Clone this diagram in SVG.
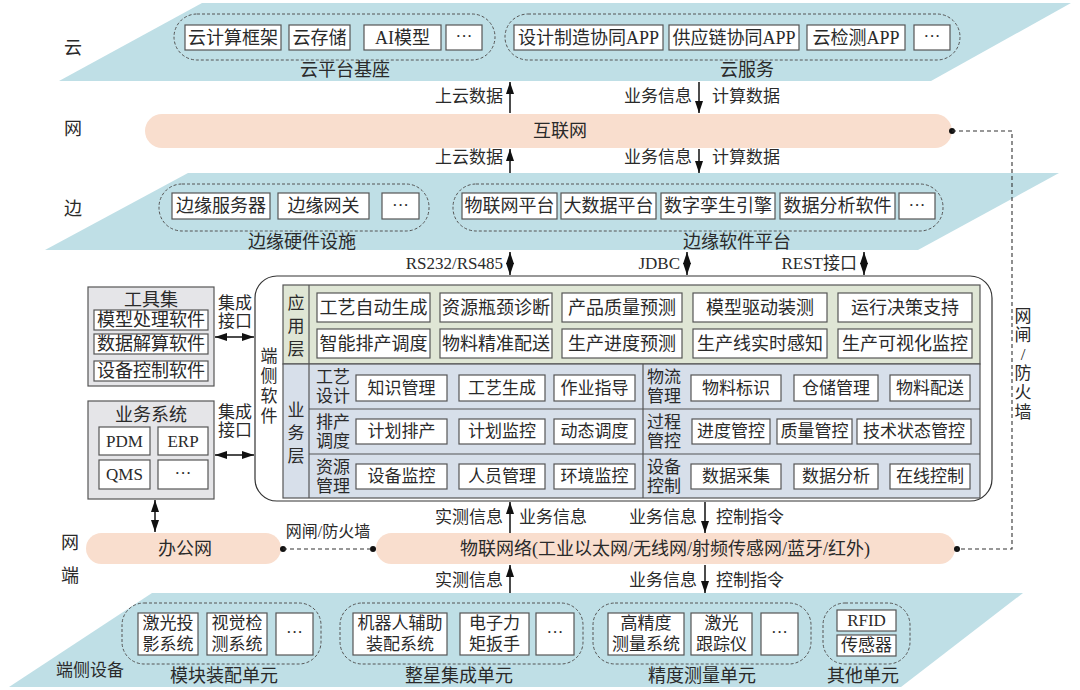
<svg xmlns="http://www.w3.org/2000/svg" width="1080" height="690" viewBox="0 0 1080 690">
<style>
text{font-family:"Liberation Serif","Noto Sans CJK SC",serif;font-size:17px;fill:#2a2a2a;text-anchor:middle;dominant-baseline:central}
.s{font-size:16px}
.b{font-size:18px}
.box{fill:#fff;stroke:#555;stroke-width:1.2}
.grp{fill:none;stroke:#555;stroke-width:1;stroke-dasharray:3 2}
.band{fill:#bfdfe6}
.net{fill:#f9dece}
.gray{fill:#e5e5e8;stroke:#555;stroke-width:1.2}
.arr{stroke:#111;stroke-width:1.5;fill:none;marker-end:url(#ah)}
.darr{stroke:#111;stroke-width:1.5;fill:none;marker-end:url(#ah);marker-start:url(#ah)}
.dash{stroke:#333;stroke-width:1.1;fill:none;stroke-dasharray:4 3}
.ln{stroke:#555;stroke-width:1.2}
.e{text-anchor:end}
.st{text-anchor:start}
</style>
<defs>
<marker id="ah" viewBox="0 0 12 8" refX="12" refY="4" markerWidth="12" markerHeight="8" orient="auto-start-reverse" markerUnits="userSpaceOnUse"><path d="M0,0 L12,4 L0,8 z" fill="#111"/></marker>
</defs>

<!-- bands -->
<g id="bands">
<polygon class="band" points="202,3 1071,3 931,81 59,81"/>
<polygon class="band" points="188,173 1059,173 918,250 45,250"/>
<polygon class="band" points="152,593 1023,593 901,687 9,687"/>
</g>

<!-- layer labels -->
<g id="layer-labels">
<text class="b" x="73" y="48">云</text>
<text class="b" x="73" y="129">网</text>
<text class="b" x="73" y="209">边</text>
<text class="b" x="70" y="543">网</text>
<text class="b" x="70" y="576">端</text>
<text x="90" y="670">端侧设备</text>
</g>

<!-- cloud platform base -->
<g id="cloud-base">
<rect class="grp" x="174" y="14" width="321" height="46" rx="23"/>
<rect class="box" x="185" y="25" width="96" height="25"/><text class="b" x="233" y="37.5">云计算框架</text>
<rect class="box" x="289" y="25" width="61" height="25"/><text class="b" x="319.5" y="37.5">云存储</text>
<rect class="box" x="364" y="25" width="77" height="25"/><text class="b" x="402.5" y="37.5">AI模型</text>
<rect class="box" x="446" y="25" width="36" height="25"/><text x="464" y="36">···</text>
<text class="b" x="345" y="70">云平台基座</text>
</g>

<g id="cloud-service">
<rect class="grp" x="505" y="14" width="455" height="46" rx="23"/>
<rect class="box" x="514" y="25" width="149" height="25"/><text class="b" x="588.5" y="37.5">设计制造协同APP</text>
<rect class="box" x="669" y="25" width="130" height="25"/><text class="b" x="734" y="37.5">供应链协同APP</text>
<rect class="box" x="807" y="25" width="98" height="25"/><text class="b" x="856" y="37.5">云检测APP</text>
<rect class="box" x="914" y="25" width="36" height="25"/><text x="932" y="36">···</text>
<text class="b" x="747" y="70">云服务</text>
</g>

<!-- internet -->
<g id="internet">
<rect class="net" x="145" y="114" width="807" height="34" rx="17"/>
<text class="b" x="560" y="131">互联网</text>
</g>

<!-- edge hardware -->
<g id="edge-hw">
<rect class="grp" x="159" y="184" width="270" height="47" rx="23"/>
<rect class="box" x="172" y="193" width="98" height="26"/><text class="b" x="221" y="206">边缘服务器</text>
<rect class="box" x="278" y="193" width="91" height="26"/><text class="b" x="323.5" y="206">边缘网关</text>
<rect class="box" x="382" y="193" width="37" height="26"/><text x="400.5" y="205">···</text>
<text class="b" x="302" y="242">边缘硬件设施</text>
</g>

<g id="edge-sw">
<rect class="grp" x="453" y="184" width="490" height="47" rx="23"/>
<rect class="box" x="462" y="193" width="95" height="26"/><text class="b" x="509.5" y="206">物联网平台</text>
<rect class="box" x="561" y="193" width="95" height="26"/><text class="b" x="608.5" y="206">大数据平台</text>
<rect class="box" x="661" y="193" width="114" height="26"/><text class="b" x="718" y="206">数字孪生引擎</text>
<rect class="box" x="780" y="193" width="115" height="26"/><text class="b" x="837.5" y="206">数据分析软件</text>
<rect class="box" x="899" y="193" width="36" height="26"/><text x="917" y="205">···</text>
<text class="b" x="737" y="242">边缘软件平台</text>
</g>

<!-- terminal software -->
<g id="terminal-software">
<rect x="255" y="276" width="737" height="225" rx="22" fill="#fff" stroke="#333" stroke-width="1.2"/>
<text x="269" y="356">端</text><text x="269" y="376">侧</text><text x="269" y="396">软</text><text x="269" y="416">件</text>
</g>

<g id="app-layer">
<rect x="283" y="285" width="697" height="79" fill="#dfe6d5" stroke="#555" stroke-width="1.2"/>
<line class="ln" x1="309" y1="285" x2="309" y2="364"/>
<text x="296" y="303">应</text><text x="296" y="326">用</text><text x="296" y="349">层</text>
<rect class="box" x="317" y="293" width="113" height="29"/><text class="b" x="373.5" y="307.5">工艺自动生成</text>
<rect class="box" x="440" y="293" width="112" height="29"/><text class="b" x="496" y="307.5">资源瓶颈诊断</text>
<rect class="box" x="562" y="293" width="120" height="29"/><text class="b" x="622" y="307.5">产品质量预测</text>
<rect class="box" x="693" y="293" width="134" height="29"/><text class="b" x="760" y="307.5">模型驱动装测</text>
<rect class="box" x="838" y="293" width="134" height="29"/><text class="b" x="905" y="307.5">运行决策支持</text>
<rect class="box" x="317" y="329" width="113" height="29"/><text class="b" x="373.5" y="343.5">智能排产调度</text>
<rect class="box" x="440" y="329" width="112" height="29"/><text class="b" x="496" y="343.5">物料精准配送</text>
<rect class="box" x="562" y="329" width="120" height="29"/><text class="b" x="622" y="343.5">生产进度预测</text>
<rect class="box" x="693" y="329" width="134" height="29"/><text class="b" x="760" y="343.5">生产线实时感知</text>
<rect class="box" x="838" y="329" width="134" height="29"/><text class="b" x="905" y="343.5">生产可视化监控</text>
</g>

<g id="business-layer">
<rect x="283" y="364" width="697" height="134" fill="#d7dfea" stroke="#555" stroke-width="1.2"/>
<line class="ln" x1="309" y1="364" x2="309" y2="498"/>
<line class="ln" x1="643" y1="364" x2="643" y2="498"/>
<line class="ln" x1="309" y1="409" x2="980" y2="409"/>
<line class="ln" x1="309" y1="454" x2="980" y2="454"/>
<text x="296" y="410">业</text><text x="296" y="433">务</text><text x="296" y="456">层</text>
<text x="333" y="377">工艺</text><text x="333" y="396">设计</text>
<text x="333" y="422">排产</text><text x="333" y="441">调度</text>
<text x="333" y="467">资源</text><text x="333" y="486">管理</text>
<text x="664" y="377">物流</text><text x="664" y="396">管理</text>
<text x="664" y="422">过程</text><text x="664" y="441">管控</text>
<text x="664" y="467">设备</text><text x="664" y="486">控制</text>
<rect class="box" x="356" y="375" width="91" height="26"/><text x="401.5" y="388">知识管理</text>
<rect class="box" x="459" y="375" width="86" height="26"/><text x="502" y="388">工艺生成</text>
<rect class="box" x="554" y="375" width="81" height="26"/><text x="594.5" y="388">作业指导</text>
<rect class="box" x="691" y="375" width="90" height="26"/><text x="736" y="388">物料标识</text>
<rect class="box" x="794" y="375" width="84" height="26"/><text x="836" y="388">仓储管理</text>
<rect class="box" x="890" y="375" width="80" height="26"/><text x="930" y="388">物料配送</text>
<rect class="box" x="356" y="419" width="91" height="25"/><text x="401.5" y="431.5">计划排产</text>
<rect class="box" x="459" y="419" width="86" height="25"/><text x="502" y="431.5">计划监控</text>
<rect class="box" x="554" y="419" width="81" height="25"/><text x="594.5" y="431.5">动态调度</text>
<rect class="box" x="692" y="419" width="78" height="25"/><text x="731" y="431.5">进度管控</text>
<rect class="box" x="777" y="419" width="75" height="25"/><text x="814.5" y="431.5">质量管控</text>
<rect class="box" x="857" y="419" width="114" height="25"/><text x="914" y="431.5">技术状态管控</text>
<rect class="box" x="356" y="464" width="91" height="25"/><text x="401.5" y="476.5">设备监控</text>
<rect class="box" x="459" y="464" width="86" height="25"/><text x="502" y="476.5">人员管理</text>
<rect class="box" x="554" y="464" width="81" height="25"/><text x="594.5" y="476.5">环境监控</text>
<rect class="box" x="691" y="464" width="90" height="25"/><text x="736" y="476.5">数据采集</text>
<rect class="box" x="794" y="464" width="84" height="25"/><text x="836" y="476.5">数据分析</text>
<rect class="box" x="890" y="464" width="80" height="25"/><text x="930" y="476.5">在线控制</text>
</g>

<!-- tool set -->
<g id="toolset">
<rect class="gray" x="88" y="287" width="126" height="99"/>
<text class="b" x="151" y="300">工具集</text>
<rect class="box" x="94" y="310" width="114" height="20"/><text class="b" x="151" y="320">模型处理软件</text>
<rect class="box" x="94" y="334" width="114" height="20"/><text class="b" x="151" y="344">数据解算软件</text>
<rect class="box" x="94" y="361" width="114" height="20"/><text class="b" x="151" y="371">设备控制软件</text>
</g>

<g id="business-system">
<rect class="gray" x="88" y="401" width="126" height="98"/>
<text class="b" x="151" y="415">业务系统</text>
<rect class="box" x="99" y="427" width="51" height="28"/><text x="124.5" y="441">PDM</text>
<rect class="box" x="158" y="427" width="50" height="28"/><text x="183" y="441">ERP</text>
<rect class="box" x="99" y="460" width="51" height="29"/><text x="124.5" y="474.5">QMS</text>
<rect class="box" x="158" y="460" width="50" height="29"/><text x="183" y="473">···</text>
</g>

<!-- office network -->
<g id="office-net">
<rect class="net" x="86" y="533" width="195" height="31" rx="15.5"/>
<text class="b" x="185" y="549">办公网</text>
</g>

<g id="iot-net">
<rect class="net" x="376" y="533" width="579" height="31" rx="15.5"/>
<text class="b" x="665" y="549">物联网络(工业以太网/无线网/射频传感网/蓝牙/红外)</text>
</g>

<!-- terminal devices -->
<g id="unit-module">
<rect class="grp" x="122" y="603" width="199" height="61" rx="22"/>
<rect class="box" x="138" y="613" width="60" height="42"/><text x="168" y="623.5">激光投</text><text x="168" y="644.5">影系统</text>
<rect class="box" x="207" y="613" width="60" height="42"/><text x="237" y="623.5">视觉检</text><text x="237" y="644.5">测系统</text>
<rect class="box" x="276" y="613" width="37" height="42"/><text x="294.5" y="632">···</text>
<text class="b" x="224" y="676">模块装配单元</text>
</g>

<g id="unit-satellite">
<rect class="grp" x="340" y="603" width="243" height="61" rx="22"/>
<rect class="box" x="353" y="613" width="94" height="42"/><text x="400" y="623.5">机器人辅助</text><text x="400" y="644.5">装配系统</text>
<rect class="box" x="460" y="613" width="69" height="42"/><text x="494.5" y="623.5">电子力</text><text x="494.5" y="644.5">矩扳手</text>
<rect class="box" x="536" y="613" width="38" height="42"/><text x="555" y="632">···</text>
<text class="b" x="459" y="676">整星集成单元</text>
</g>

<g id="unit-measure">
<rect class="grp" x="593" y="603" width="218" height="61" rx="22"/>
<rect class="box" x="608" y="613" width="76" height="42"/><text x="646" y="623.5">高精度</text><text x="646" y="644.5">测量系统</text>
<rect class="box" x="691" y="613" width="61" height="42"/><text x="721.5" y="623.5">激光</text><text x="721.5" y="644.5">跟踪仪</text>
<rect class="box" x="761" y="613" width="37" height="42"/><text x="779.5" y="632">···</text>
<text class="b" x="702" y="676">精度测量单元</text>
</g>

<g id="unit-other">
<rect class="grp" x="823" y="603" width="87" height="61" rx="22"/>
<rect class="box" x="837" y="610" width="59" height="21"/><text x="866.5" y="620.5">RFID</text>
<rect class="box" x="837" y="635" width="59" height="21"/><text x="866.5" y="645.5">传感器</text>
<text class="b" x="863" y="676">其他单元</text>
</g>

<!-- connectors -->
<g id="connectors">
<line class="arr" x1="510" y1="113" x2="510" y2="82"/>
<line class="arr" x1="699" y1="82" x2="699" y2="113"/>
<text class="e" x="503" y="96">上云数据</text>
<text class="e" x="692" y="96">业务信息</text>
<text class="st" x="712" y="96">计算数据</text>

<line class="arr" x1="510" y1="173" x2="510" y2="149"/>
<line class="arr" x1="699" y1="149" x2="699" y2="173"/>
<text class="e" x="503" y="157">上云数据</text>
<text class="e" x="692" y="157">业务信息</text>
<text class="st" x="712" y="157">计算数据</text>

<line class="darr" x1="510" y1="252" x2="510" y2="275"/>
<line class="darr" x1="687" y1="252" x2="687" y2="275"/>
<line class="darr" x1="864" y1="252" x2="864" y2="275"/>
<text class="e" x="503" y="263">RS232/RS485</text>
<text class="e" x="680" y="263">JDBC</text>
<text class="e" x="857" y="263">REST接口</text>

<line class="darr" x1="215" y1="337" x2="254" y2="337"/>
<text x="235" y="303">集成</text><text x="235" y="321">接口</text>
<line class="darr" x1="215" y1="455" x2="254" y2="455"/>
<text x="235" y="412">集成</text><text x="235" y="430">接口</text>

<line class="darr" x1="155" y1="500" x2="155" y2="532"/>

<circle cx="283" cy="549" r="3" fill="#111"/>
<circle cx="373" cy="549" r="3" fill="#111"/>
<line class="dash" x1="283" y1="549" x2="373" y2="549"/>
<text class="s" x="328" y="531">网闸/防火墙</text>

<circle cx="952" cy="131" r="3" fill="#111"/>
<circle cx="957" cy="549" r="3" fill="#111"/>
<path class="dash" d="M952,131 H1012 V549 H957"/>
<text x="1023" y="316">网</text><text x="1023" y="335">闸</text><text x="1023" y="354">/</text><text x="1023" y="373">防</text><text x="1023" y="392">火</text><text x="1023" y="412">墙</text>

<line class="arr" x1="510" y1="533" x2="510" y2="502"/>
<line class="arr" x1="705" y1="502" x2="705" y2="533"/>
<text class="e" x="503" y="517">实测信息</text>
<text class="st" x="519" y="517">业务信息</text>
<text class="e" x="697" y="517">业务信息</text>
<text class="st" x="716" y="517">控制指令</text>

<line class="arr" x1="510" y1="593" x2="510" y2="565"/>
<line class="arr" x1="705" y1="565" x2="705" y2="593"/>
<text class="e" x="503" y="580">实测信息</text>
<text class="e" x="697" y="580">业务信息</text>
<text class="st" x="716" y="580">控制指令</text>
</g>
</svg>
